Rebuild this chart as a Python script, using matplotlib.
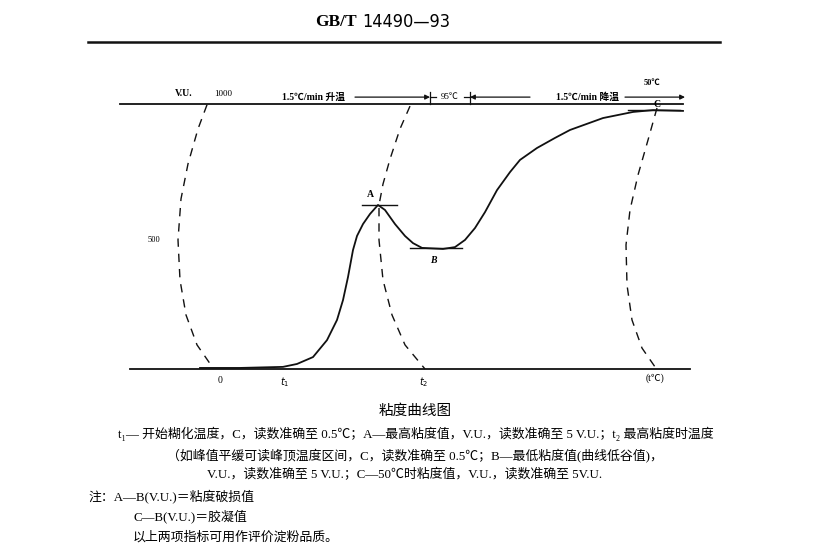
import matplotlib.pyplot as plt

FONT = ['Liberation Serif', 'Noto Sans CJK SC', 'DejaVu Sans']
plt.rcParams['font.family'] = FONT

# viscosity curve (x = time units from start "0", y = V.U.)
curve_x = [-18, 22, 65, 79, 95, 109, 119, 125, 130, 135, 139, 145, 152, 160,
           167, 177, 187, 195, 204, 225, 237, 247, 257, 267, 279, 292, 302,
           319, 337, 352, 385, 415, 435, 465]
curve_vu = [4, 4, 8, 19, 45, 109, 185, 260, 347, 449, 502, 547, 585, 619,
            600, 547, 502, 475, 457, 453, 460, 487, 532, 592, 675, 743, 789,
            834, 872, 902, 947, 970, 977, 974]

# recorder pen arcs (dashed)
arc1_x = [-11, -20, -30, -37, -40, -38, -32, -21, -5]
arc1_vu = [997, 906, 774, 642, 487, 336, 204, 91, 4]
arc2_x = [192, 182, 172, 165, 161, 161, 165, 174, 187, 207]
arc2_vu = [992, 906, 792, 698, 619, 487, 336, 204, 91, 0]
arc3_x = [439, 430, 420, 412, 408, 409, 414, 424, 437]
arc3_vu = [985, 864, 732, 600, 468, 317, 185, 79, 8]

# reading marks A, B, C
marks = {'A': (144, 179, 619), 'B': (192, 244, 457), 'C': (410, 462, 977)}

t_ticks = [0, 65, 204]
t_labels = ['0', r'$t_1$', r'$t_2$']

fig = plt.figure(figsize=(8.26, 5.54), dpi=100)
ax = fig.add_axes([120 / 826, 1 - 369 / 554, 570 / 826, 265 / 554])
ax.set_xlim(-98, 472)
ax.set_ylim(0, 1000)
ax.axis('off')

ink = '#111111'
ax.plot([-98, 465], [1000, 1000], color=ink, lw=1.3, clip_on=False)
ax.plot([-88, 472], [0, 0], color=ink, lw=1.3, clip_on=False)
ax.plot(curve_x, curve_vu, color=ink, lw=1.3, clip_on=False)
for xs, ys in [(arc1_x, arc1_vu), (arc2_x, arc2_vu), (arc3_x, arc3_vu)]:
    ax.plot(xs, ys, color=ink, lw=1.0, ls=(0, (6, 5)), clip_on=False)
for k, (x0, x1, y) in marks.items():
    ax.plot([x0, x1], [y, y], color=ink, lw=1.0, clip_on=False)

ax.text(152, 650, 'A', fontsize=7, fontweight='bold', ha='center')
ax.text(215, 400, 'B', fontsize=7, style='italic', fontweight='bold', ha='center')
ax.text(439, 990, 'C', fontsize=7, fontweight='bold', ha='center')

# axis labels
ax.text(-34, 1030, 'V.U.', fontsize=7, fontweight='bold', ha='center')
ax.text(5, 1030, '1000', fontsize=6.5, ha='center')
ax.text(-64, 487, '500', fontsize=6, ha='center', va='center')
for t, lab in zip(t_ticks, t_labels):
    ax.text(t + 2, -25, lab, fontsize=7, ha='center', va='top')
ax.text(437, -15, '(t℃)', fontsize=7, ha='center', va='top')

# heating / holding / cooling annotations
y_ar = 1026
arrow = dict(arrowstyle='-|>', color=ink, lw=0.9, mutation_scale=7,
             shrinkA=0, shrinkB=0)
ax.text(95, y_ar, '1.5℃/min 升温', fontsize=7, fontweight='bold', ha='center', va='center')
ax.annotate('', xy=(212, y_ar), xytext=(137, y_ar), arrowprops=arrow,
            annotation_clip=False)
ax.plot([212, 218], [y_ar, y_ar], color=ink, lw=0.9, clip_on=False)
ax.plot([212, 212], [1000, 1045], color=ink, lw=0.9, clip_on=False)
ax.text(232, y_ar, '95℃', fontsize=6.5, ha='center', va='center')
ax.plot([246, 252], [y_ar, y_ar], color=ink, lw=0.9, clip_on=False)
ax.annotate('', xy=(252, y_ar), xytext=(312, y_ar), arrowprops=arrow,
            annotation_clip=False)
ax.plot([252, 252], [1000, 1045], color=ink, lw=0.9, clip_on=False)
ax.text(370, y_ar, '1.5℃/min 降温', fontsize=7, fontweight='bold', ha='center', va='center')
ax.annotate('', xy=(467, y_ar), xytext=(407, y_ar), arrowprops=arrow,
            annotation_clip=False)
ax.text(434, 1080, '50℃', fontsize=6, fontweight='bold', ha='center', va='center')

# page header
fig.text(357 / 826, 1 - 22 / 554, 'GB/T', fontsize=12.5, fontweight='bold',
         ha='right', va='center')
fig.text(362 / 826, 1 - 22 / 554, '14490—93', fontsize=13,
         family=['DejaVu Sans'], stretch='condensed', ha='left', va='center')
fig.add_artist(plt.Line2D([88 / 826, 720 / 826], [1 - 42 / 554, 1 - 42 / 554],
                          color=ink, lw=1.8))

# caption
cap = dict(fontsize=9.3, va='center')
fig.text(415 / 826, 1 - 411 / 554, '粘度曲线图', fontsize=10.5, ha='center', va='center')
fig.text(118 / 826, 1 - 434 / 554,
         't₁— 开始糊化温度，C，读数准确至 0.5℃；A—最高粘度值，V.U.，读数准确至 5 V.U.；t₂ 最高粘度时温度',
         ha='left', **cap)
fig.text(415 / 826, 1 - 455 / 554,
         '（如峰值平缓可读峰顶温度区间，C，读数准确至 0.5℃；B—最低粘度值(曲线低谷值)，',
         ha='center', **cap)
fig.text(405 / 826, 1 - 475 / 554,
         'V.U.，读数准确至 5 V.U.；C—50℃时粘度值，V.U.，读数准确至 5V.U.',
         ha='center', **cap)
fig.text(88 / 826, 1 - 496 / 554, '注：A—B(V.U.)＝粘度破损值', ha='left', **cap)
fig.text(133 / 826, 1 - 516 / 554, 'C—B(V.U.)＝胶凝值', ha='left', **cap)
fig.text(133 / 826, 1 - 537 / 554, '以上两项指标可用作评价淀粉品质。', ha='left', **cap)

fig.savefig('out.png', dpi=100, facecolor='white')
plt.close(fig)
